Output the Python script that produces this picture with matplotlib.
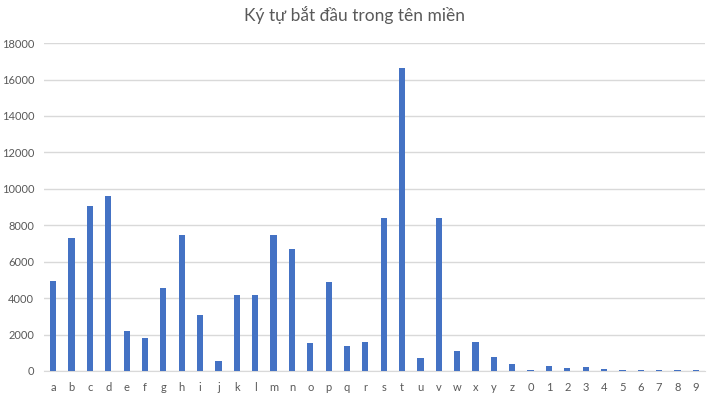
import matplotlib
matplotlib.use("Agg")
import matplotlib.pyplot as plt
import numpy as np

plt.rcParams["font.family"] = ["Lato", "DejaVu Sans"]

# data
letters = list("abcdefghijklmnopqrstuvwxyz0123456789")
counts = [4950, 7300, 9070, 9610, 2200, 1810, 4560, 7470, 3070, 550,
          4170, 4170, 7470, 6700, 1540, 4890, 1370, 1590, 8400, 16640,
          710, 8400, 1100, 1590, 770, 380, 55, 275, 165, 220,
          110, 40, 40, 35, 40, 40]
yticks = list(range(0, 18001, 2000))

fig = plt.figure(figsize=(7.1, 3.97), dpi=100)
ax = fig.add_axes([0.062, 0.0655, 0.931, 0.826])

x = np.arange(len(letters))
ax.bar(x, counts, width=0.34, color="#4472C4", zorder=3)

ax.set_xlim(-0.5, len(letters) - 0.5)
ax.set_ylim(0, 18000)
ax.set_yticks(yticks)
ax.set_yticklabels([str(v) for v in yticks])
ax.set_xticks(x)
ax.set_xticklabels(letters)
ax.grid(True, axis="y", color="#D9D9D9", linewidth=1, zorder=0)
for s in ["top", "right", "left"]:
    ax.spines[s].set_visible(False)
ax.spines["bottom"].set_color("#D9D9D9")
ax.tick_params(axis="x", length=0, labelsize=8, colors="#595959", pad=8)
ax.tick_params(axis="y", length=0, labelsize=8, colors="#595959", pad=7)

fig.suptitle("Ký tự bắt đầu trong tên miền", y=0.985, fontsize=12.5, color="#595959")

plt.savefig("out.png", dpi=100)
plt.close()
